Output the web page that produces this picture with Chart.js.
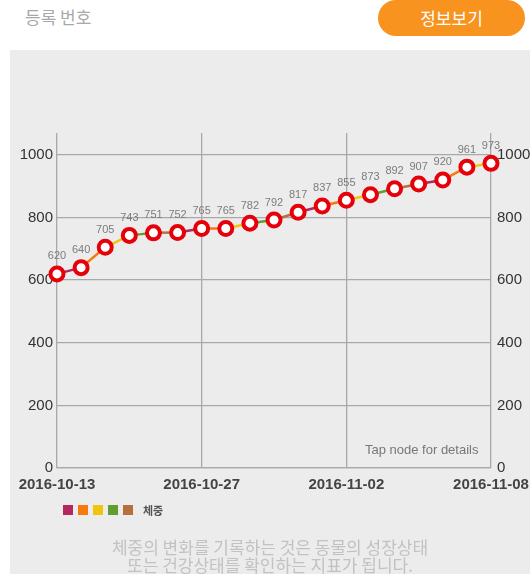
<!DOCTYPE html>
<html>
<head>
<meta charset="utf-8">
<script src="https://cdn.jsdelivr.net/npm/chart.js@4"></script>
<style>
  html, body { margin: 0; padding: 0; background: #fff; }
  body { width: 530px; height: 574px; position: relative; overflow: hidden; font-family: "Noto Sans CJK KR", "Noto Sans", sans-serif; }
  .titulo { position: absolute; left: 25px; top: 4px; font-size: 17px; color: #a8a8a8; }
  .boton { position: absolute; left: 378px; top: 0; width: 147px; height: 36px; border-radius: 18px; background: #f7931e; color: #fff; font-size: 17px; line-height: 36px; text-align: center; }
  .panel { position: absolute; left: 10px; top: 50px; width: 520px; height: 524px; background: #ececec; }
  #chartPeso { position: absolute; left: 0; top: 0; }
  .leyenda { position: absolute; left: 63px; top: 502px; display: flex; align-items: center; font-size: 11px; color: #555; font-weight: bold; }
  .leyenda span.cuadro { width: 10px; height: 10px; margin-right: 5px; display: inline-block; }
  .leyenda span.texto { margin-left: 5px; }
  .nota { position: absolute; left: 10px; width: 520px; top: 538px; text-align: center; font-size: 17px; line-height: 18px; color: #c2c2c2; white-space: nowrap; }
  .tap { position: absolute; left: 365px; top: 442px; font-size: 13px; color: #777; font-family: "Liberation Sans", sans-serif; }
</style>
</head>
<body>
<div class="titulo">등록 번호</div>
<div class="boton">정보보기</div>
<div class="panel"></div>
<canvas id="chartPeso" width="545" height="574"></canvas>
<div class="tap">Tap node for details</div>
<div class="leyenda" id="leyenda"></div>
<div class="nota">체중의 변화를 기록하는 것은 동물의 성장상태<br>또는 건강상태를 확인하는 지표가 됩니다.</div>

<script>
// datos
const fechas = [
  "2016-10-13", "", "", "", "", "",
  "2016-10-27", "", "", "", "", "",
  "2016-11-02", "", "", "", "", "",
  "2016-11-08"
];
const pesos = [620, 640, 705, 743, 751, 752, 765, 765, 782, 792, 817, 837, 855, 873, 892, 907, 920, 961, 973];
const ticksY = [0, 200, 400, 600, 800, 1000];
const coloresTramo = ["#b3285e", "#f77a0c", "#f2c40c", "#5f9e2f", "#b7703c"];
const serieNombre = "체중";

// leyenda
const leyenda = document.getElementById("leyenda");
coloresTramo.forEach(c => {
  const s = document.createElement("span");
  s.className = "cuadro";
  s.style.background = c;
  leyenda.appendChild(s);
});
const t = document.createElement("span");
t.className = "texto";
t.innerText = serieNombre;
leyenda.appendChild(t);

// etiquetas de valor sobre cada nodo
Chart.register({
  id: "valorNodo",
  afterDatasetsDraw(chart) {
    const { ctx } = chart;
    const meta = chart.getDatasetMeta(0);
    ctx.save();
    ctx.fillStyle = "#7c7c7c";
    ctx.font = "11px 'Liberation Sans', sans-serif";
    ctx.textAlign = "center";
    ctx.textBaseline = "bottom";
    meta.data.forEach((p, i) => {
      ctx.fillText(pesos[i], p.x, p.y - 12);
    });
    ctx.restore();
  }
});

const fijarTicks = scale => { scale.ticks = ticksY.map(v => ({ value: v })); };
const gridX = ctx => (fechas[ctx.index] ? "#a9a9a9" : "rgba(0,0,0,0)");
const fuenteEje = { family: "'Liberation Sans', sans-serif", size: 15 };

new Chart(document.getElementById("chartPeso"), {
  type: "line",
  data: {
    labels: fechas,
    datasets: [{
      label: serieNombre,
      data: pesos,
      borderWidth: 2.5,
      segment: { borderColor: c => coloresTramo[c.p0DataIndex % coloresTramo.length] },
      pointRadius: 6.5,
      pointBorderWidth: 4,
      pointBorderColor: "#e6000a",
      pointBackgroundColor: "#fff",
      tension: 0
    }]
  },
  options: {
    responsive: false,
    animation: false,
    layout: { padding: { top: 133, left: 0, right: 0, bottom: 0 } },
    plugins: { legend: { display: false }, tooltip: { enabled: false } },
    scales: {
      x: {
        offset: false,
        grid: { color: gridX, lineWidth: 1.3, drawTicks: false },
        border: { color: "#a9a9a9", width: 1.3 },
        ticks: {
          autoSkip: false, maxRotation: 0, padding: 8,
          color: "#444", font: { family: "'Liberation Sans', sans-serif", size: 15, weight: "bold" }
        },
        afterFit: s => { s.height = 106; }
      },
      y: {
        position: "left",
        min: 0, max: 1070,
        afterBuildTicks: fijarTicks,
        grid: { color: "#a9a9a9", lineWidth: 1.3, drawTicks: false },
        border: { display: false },
        ticks: { padding: 4, color: "#333", font: fuenteEje, callback: v => String(v) },
        afterFit: s => { s.width = 57; }
      },
      y2: {
        position: "right",
        min: 0, max: 1070,
        afterBuildTicks: fijarTicks,
        grid: { display: false, drawTicks: false },
        border: { display: false },
        ticks: { padding: 6, color: "#333", font: fuenteEje, callback: v => String(v) },
        afterFit: s => { s.width = 54; }
      }
    }
  }
});
</script>
</body>
</html>
